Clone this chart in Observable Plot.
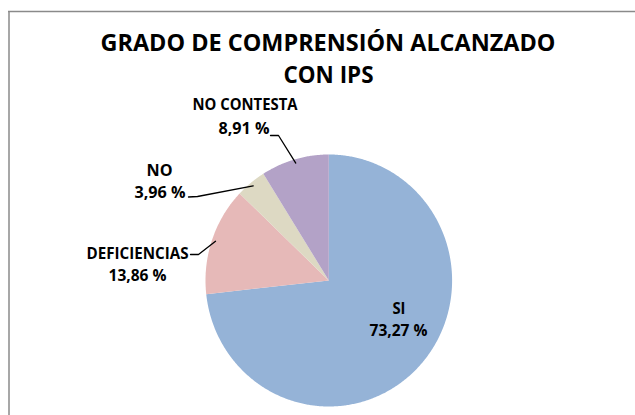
<!DOCTYPE html>
<html>
<head>
<meta charset="utf-8">
<script src="https://cdn.jsdelivr.net/npm/d3@7"></script>
<script src="https://cdn.jsdelivr.net/npm/@observablehq/plot@0.6"></script>
<style>
  html, body { margin: 0; padding: 0; background: #fff; }
  #chart { width: 635px; height: 415px; overflow: hidden; }
</style>
</head>
<body>
<div id="chart"></div>
<script>
// ---- data ----
const titleLines = ["GRADO DE COMPRENSIÓN ALCANZADO", "CON IPS"];
const categories = ["SI", "DEFICIENCIAS", "NO", "NO CONTESTA"];
const values = [73.27, 13.86, 3.96, 8.91];
const valueLabels = ["73,27 %", "13,86 %", "3,96 %", "8,91 %"];
const colors = ["#95B3D7", "#E6B9B8", "#DDD9C3", "#B3A2C7"];

// ---- layout (pixel positions / sizes) ----
const W = 635, H = 415;
const pie = {cx: 328.3, cy: 280, rx: 123.3, ry: 126};
// title lines: center x, baseline y, width
const titleLayout = [
  {x: 327.5, y: 50, w: 455},
  {x: 328, y: 82, w: 90}
];
// per category: name line, value line (center x, baseline y, width), leader start & elbow
const labelLayout = [
  {name: {x: 398.5, y: 313, w: 13}, val: {x: 398, y: 335, w: 58}, leader: null},
  {name: {x: 137, y: 258, w: 102}, val: {x: 137, y: 280, w: 58}, leader: [[190, 254], [198, 254]]},
  {name: {x: 159, y: 175, w: 26}, val: {x: 159.5, y: 197, w: 51}, leader: [[188, 196.5], [197, 196]]},
  {name: {x: 244.5, y: 109, w: 105}, val: {x: 243.5, y: 133, w: 51}, leader: [[270, 135], [278, 135]]}
];

// ---- build slices from the values ----
const arcs = d3.pie().sort(null).value(d => d)(values);
const pt = (a, r = 1) => [pie.cx + pie.rx * r * Math.sin(a), pie.cy - pie.ry * r * Math.cos(a)];
const slicePts = [];
arcs.forEach((arc, i) => {
  const cat = categories[i];
  slicePts.push({cat, x: pie.cx, y: pie.cy});
  const n = Math.max(4, Math.ceil((arc.endAngle - arc.startAngle) / (Math.PI / 360)));
  for (let k = 0; k <= n; k++) {
    const a = arc.startAngle + (arc.endAngle - arc.startAngle) * k / n;
    const [x, y] = pt(a);
    slicePts.push({cat, x, y});
  }
  slicePts.push({cat, x: pie.cx, y: pie.cy});
});

// leader lines: label -> elbow -> slice edge at mid-angle
const leaderPts = [];
arcs.forEach((arc, i) => {
  const L = labelLayout[i].leader;
  if (!L) return;
  const mid = (arc.startAngle + arc.endAngle) / 2;
  const [ex, ey] = pt(mid, 0.97);
  leaderPts.push({cat: categories[i], x: L[0][0], y: L[0][1]});
  leaderPts.push({cat: categories[i], x: L[1][0], y: L[1][1]});
  leaderPts.push({cat: categories[i], x: ex, y: ey});
});

// text rows
const texts = [];
titleLines.forEach((t, i) => texts.push({text: t, ...titleLayout[i], size: 24}));
categories.forEach((c, i) => {
  texts.push({text: c, ...labelLayout[i].name, size: 15.5});
  texts.push({text: valueLabels[i], ...labelLayout[i].val, size: 15.5});
});
const widthOf = new Map(texts.map(d => [d.text, d.w]));

const font = "Open Sans, Lato, DejaVu Sans, sans-serif";

const plot = Plot.plot({
  width: W,
  height: H,
  margin: 0,
  x: {type: "linear", domain: [0, W], range: [0, W], axis: null},
  y: {type: "linear", domain: [0, H], range: [0, H], axis: null},
  color: {domain: categories, range: colors},
  style: {background: "#fff", fontFamily: font},
  marks: [
    // chart-area border (left and top)
    Plot.ruleX([8.5], {y1: 11, y2: H + 5, stroke: "#8a8a8a", strokeWidth: 1.5}),
    Plot.ruleY([11], {x1: 8, x2: W + 5, stroke: "#8a8a8a", strokeWidth: 1.5}),
    // slices
    Plot.line(slicePts, {x: "x", y: "y", z: "cat", fill: "cat", stroke: null, curve: "linear"}),
    // leader lines
    Plot.line(leaderPts, {x: "x", y: "y", z: "cat", stroke: "#000", strokeWidth: 1.3, curve: "linear"}),
    // title and labels
    Plot.text(texts.filter(d => d.size > 20), {
      x: "x", y: "y", text: "text", textAnchor: "middle", lineAnchor: "bottom",
      fontSize: 24, fontWeight: "bold", fill: "#000", fontFamily: font
    }),
    Plot.text(texts.filter(d => d.size < 20), {
      x: "x", y: "y", text: "text", textAnchor: "middle", lineAnchor: "bottom",
      fontSize: 15.5, fontWeight: "bold", fill: "#000", fontFamily: font
    })
  ]
});

d3.select(plot).selectAll("text").each(function () {
  const w = widthOf.get(this.textContent);
  if (w) {
    this.setAttribute("textLength", w);
    this.setAttribute("lengthAdjust", "spacingAndGlyphs");
  }
});

document.getElementById("chart").appendChild(plot);
</script>
</body>
</html>
